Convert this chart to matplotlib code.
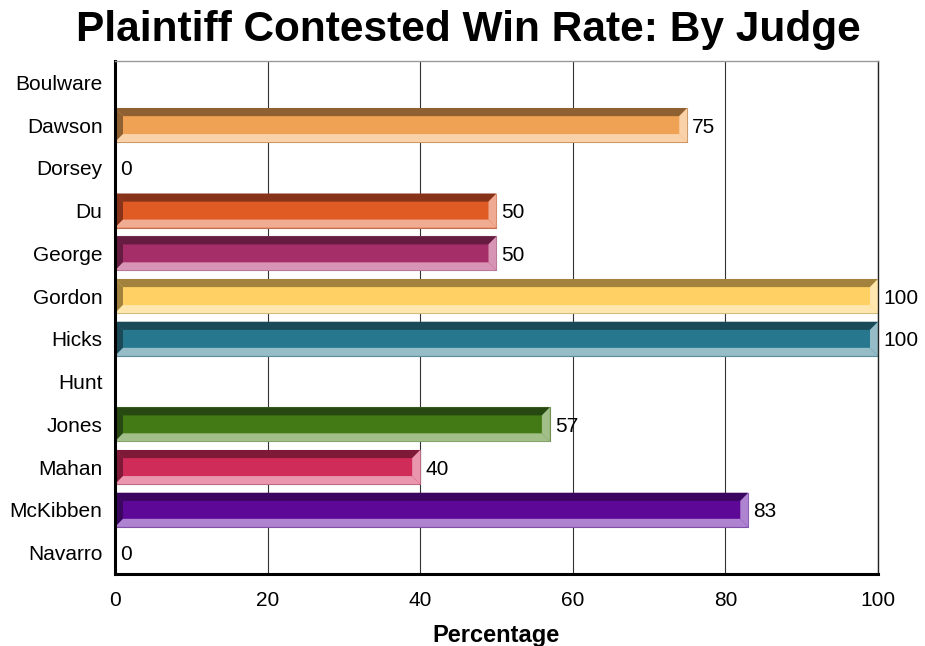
import numpy as np
import matplotlib.pyplot as plt
from matplotlib.patches import Polygon

plt.rcParams['font.family'] = ['Liberation Sans', 'DejaVu Sans']

# data
judges = ["Boulware", "Dawson", "Dorsey", "Du", "George", "Gordon",
          "Hicks", "Hunt", "Jones", "Mahan", "McKibben", "Navarro"]
win_rate = [None, 75, 0, 50, 50, 100, 100, None, 57, 40, 83, 0]

# mid / dark (top, left) / light (bottom, right) shades per bar
mid_colors = ["#888888", "#EFA253", "#888888", "#E05A24", "#A52D68", "#FFD063",
              "#27788E", "#888888", "#437A15", "#D02C5A", "#5E0898", "#888888"]
dark_colors = ["#444444", "#8F6132", "#444444", "#86331A", "#651C40", "#A2823C",
               "#1A4A58", "#444444", "#284812", "#7E1A38", "#3A0660", "#444444"]
light_colors = ["#CCCCCC", "#F9D2AA", "#CCCCCC", "#F0AC92", "#D894B4", "#FFE6AE",
                "#95BCC7", "#CCCCCC", "#A2BF8A", "#E996AE", "#AE84D0", "#CCCCCC"]
edge_colors = ["#999999", "#C08A55", "#999999", "#C07050", "#A06080", "#C8B070",
               "#5A8C9A", "#999999", "#6E9050", "#B06078", "#8050A8", "#999999"]

fig = plt.figure(figsize=(9.25, 6.46), dpi=100)
ax = fig.add_axes([0.1243, 0.1115, 0.8249, 0.7941])

y = np.arange(len(judges))
h = 0.8
bx = 1.05   # bevel width in data units (x)
by = 0.19   # bevel height in data units (y)

for i, v in enumerate(win_rate):
    if v is None or v == 0:
        continue
    top = y[i] - h / 2
    bot = y[i] + h / 2
    ax.barh(y[i], v, height=h, color=mid_colors[i], edgecolor=edge_colors[i],
            linewidth=0.8, zorder=3)
    ax.add_patch(Polygon([(0, top), (v, top), (v - bx, top + by), (bx, top + by)],
                         closed=True, facecolor=dark_colors[i], edgecolor='none', zorder=4))
    ax.add_patch(Polygon([(0, top), (bx, top + by), (bx, bot - by), (0, bot)],
                         closed=True, facecolor=dark_colors[i], edgecolor='none', zorder=4))
    ax.add_patch(Polygon([(0, bot), (bx, bot - by), (v - bx, bot - by), (v, bot)],
                         closed=True, facecolor=light_colors[i], edgecolor='none', zorder=4))
    ax.add_patch(Polygon([(v, top), (v - bx, top + by), (v - bx, bot - by), (v, bot)],
                         closed=True, facecolor=light_colors[i], edgecolor='none', zorder=4))

for i, v in enumerate(win_rate):
    if v is None:
        continue
    ax.text(v + 0.65, y[i], str(v), va='center_baseline', ha='left', fontsize=15, zorder=5)

ax.set_xlim(0, 100)
ax.set_ylim(len(judges) - 0.5, -0.5)
ax.set_yticks(y)
ax.set_yticklabels(judges, fontsize=15)
ax.set_xticks([0, 20, 40, 60, 80, 100])
ax.tick_params(axis='x', labelsize=15, length=0, pad=12)
ax.tick_params(axis='y', length=0, pad=9)
ax.xaxis.grid(True, color='#333333', linewidth=0.8, zorder=0)
ax.set_axisbelow(True)

ax.spines['left'].set_linewidth(2.2)
ax.spines['left'].set_color('black')
ax.spines['bottom'].set_linewidth(2.2)
ax.spines['bottom'].set_color('black')
ax.spines['right'].set_linewidth(1.0)
ax.spines['right'].set_color('#222222')
ax.spines['top'].set_linewidth(1.0)
ax.spines['top'].set_color('#999999')
for s in ax.spines.values():
    s.set_zorder(6)

ax.set_xlabel("Percentage", fontsize=17, fontweight='bold', labelpad=10)
fig.text(0.506, 0.953, "Plaintiff Contested Win Rate: By Judge", ha='center', va='center',
         fontsize=30.5, fontweight='bold')

fig.savefig("out.png", dpi=100)
